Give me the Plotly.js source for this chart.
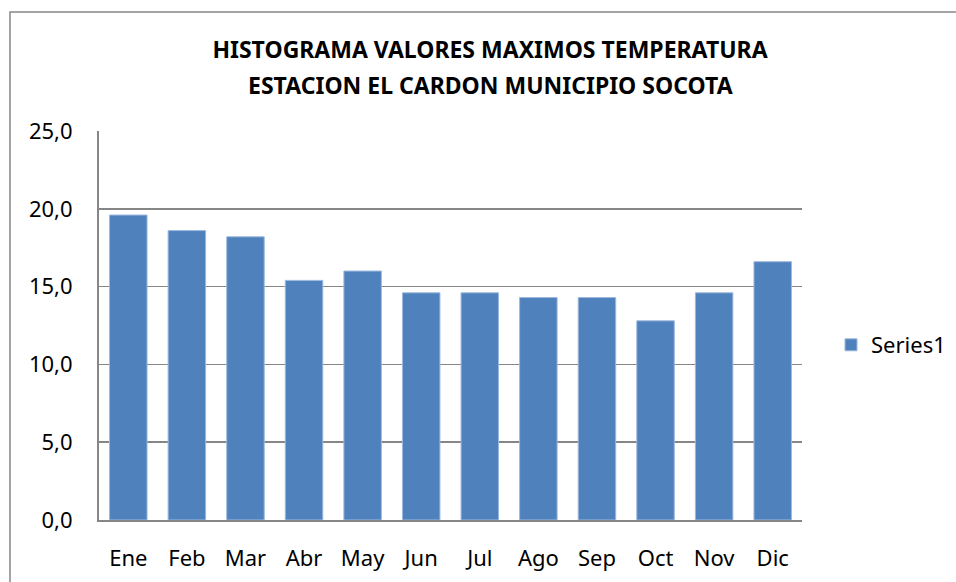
<!DOCTYPE html>
<html>
<head>
<meta charset="utf-8">
<script src="https://cdn.plot.ly/plotly-3.0.1.min.js"></script>
<style>html,body{margin:0;padding:0;background:#fff;} #chart{width:956px;height:582px;}</style>
</head>
<body>
<div id="chart"></div>
<script>
const months = ["Ene","Feb","Mar","Abr","May","Jun","Jul","Ago","Sep","Oct","Nov","Dic"];
const series1 = [19.6, 18.6, 18.2, 15.4, 16.0, 14.6, 14.6, 14.3, 14.3, 12.8, 14.6, 16.6];
const yTicks = [0, 5, 10, 15, 20, 25];
const titleLine1 = "HISTOGRAMA VALORES MAXIMOS TEMPERATURA";
const titleLine2 = "ESTACION EL CARDON MUNICIPIO SOCOTA";

const W = 956, H = 582, L = 99, R = 154, T = 131, B = 62;
const pw = W - L - R, ph = H - T - B;
const font = "Noto Sans, Open Sans, sans-serif";

const trace = {
  type: "bar", x: months, y: series1, name: "Series1",
  marker: {color: "#4F81BD", line: {color: "#9DB9DD", width: 1}}
};
const layout = {
  width: W, height: H,
  margin: {l: L, r: R, t: T, b: B, autoexpand: false},
  paper_bgcolor: "#fff", plot_bgcolor: "#fff",
  separators: ",.",
  bargap: 0.36,
  showlegend: true,
  legend: {xref: "container", yref: "container", x: 831 / W, y: 1 - 345 / H,
           xanchor: "left", yanchor: "middle",
           font: {family: font, size: 22, color: "#000"}, itemwidth: 30},
  title: {text: "<b>" + titleLine1 + "</b>", xref: "paper", x: (490 - L) / pw, xanchor: "center",
          yref: "container", y: 1 - 50 / H, yanchor: "middle",
          font: {family: font, size: 23, color: "#000"}},
  annotations: [{text: "<b>" + titleLine2 + "</b>", xref: "paper", yref: "paper",
                 x: (490 - L) / pw, y: 1 + (T - 85) / ph, xanchor: "center", yanchor: "middle",
                 showarrow: false, font: {family: font, size: 23, color: "#000"}}],
  xaxis: {showline: true, linecolor: "#868686", linewidth: 2, ticks: "", showgrid: false,
          ticklabelstandoff: 18,
          tickfont: {family: font, size: 22, color: "#000"}, fixedrange: true},
  yaxis: {range: [0, 25], tickvals: yTicks, tickformat: ".1f", showline: true, linecolor: "#868686",
          linewidth: 2, showgrid: true, gridcolor: "#868686", gridwidth: 1.5, ticks: "",
          zeroline: false, ticklabelstandoff: 20,
          tickfont: {family: font, size: 22, color: "#000"}},
  shapes: [{type: "rect", xref: "paper", yref: "paper",
            x0: (10 - L) / pw, x1: (970 - L) / pw, y0: -(B + 20) / ph, y1: 1 + (T - 12) / ph,
            line: {color: "#868686", width: 1.5}, layer: "below"}]
};
Plotly.newPlot("chart", [trace], layout, {displayModeBar: false, staticPlot: true});
</script>
</body>
</html>
